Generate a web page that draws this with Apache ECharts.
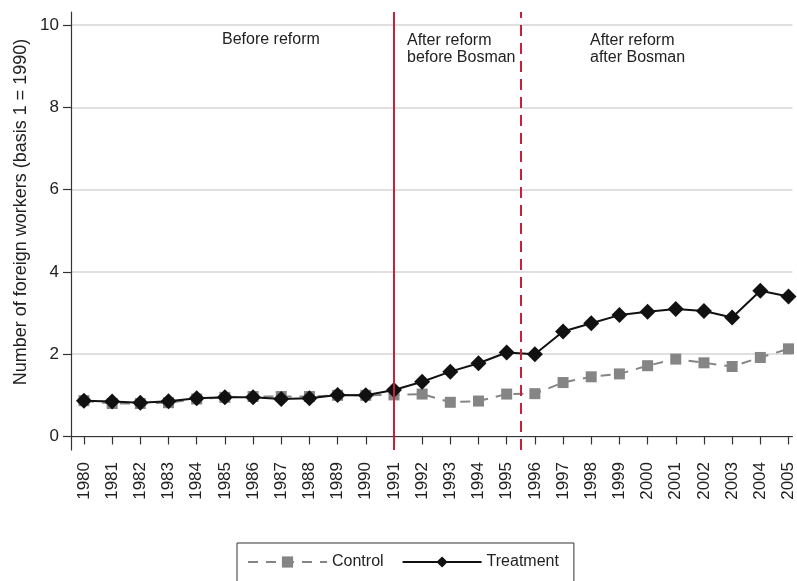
<!DOCTYPE html>
<html>
<head>
<meta charset="utf-8">
<script src="https://cdn.jsdelivr.net/npm/echarts@6/dist/echarts.min.js"></script>
<style>
  html, body { margin: 0; padding: 0; background: #fff; }
  #chart { width: 797px; height: 581px; }
</style>
</head>
<body>
<div id="chart"></div>
<script>
// Years on the horizontal axis
const years = [1980, 1981, 1982, 1983, 1984, 1985, 1986, 1987, 1988, 1989, 1990,
  1991, 1992, 1993, 1994, 1995, 1996, 1997, 1998, 1999, 2000, 2001, 2002, 2003, 2004, 2005];

// Number of foreign workers, indexed to 1 in 1990
const control = [0.87, 0.80, 0.80, 0.82, 0.91, 0.95, 0.97, 0.97, 0.97, 1.00, 1.00,
  1.01, 1.03, 0.83, 0.86, 1.03, 1.04, 1.31, 1.45, 1.52, 1.72, 1.88, 1.79, 1.70, 1.92, 2.13];
const treatment = [0.87, 0.85, 0.82, 0.855, 0.93, 0.95, 0.95, 0.91, 0.93, 1.01, 1.00,
  1.13, 1.33, 1.575, 1.78, 2.04, 2.00, 2.55, 2.75, 2.95, 3.03, 3.10, 3.05, 2.89, 3.54, 3.40];

// Y tick values
const yTicks = [0, 2, 4, 6, 8, 10];

// Reform dates
const reformYear = 1991;
const bosmanYear = 1995.5;

const font = "'Liberation Sans', Arial, Helvetica, sans-serif";
const ink = '#222';
const red = '#c8203a';

const chart = echarts.init(document.getElementById('chart'), null, { renderer: 'canvas' });

const toPairs = arr => years.map((y, i) => [y, arr[i]]);

chart.setOption({
  animation: false,
  backgroundColor: '#fff',
  textStyle: { fontFamily: font, color: ink },
  grid: { left: 71, right: 0, top: 12, bottom: 131, containLabel: false },
  xAxis: {
    type: 'value',
    min: 1979.54,
    max: 2005.14,
    axisLine: { show: true, lineStyle: { color: '#333', width: 1.2 } },
    axisTick: { show: true, length: 8, lineStyle: { color: '#333', width: 1.2 }, customValues: years },
    axisLabel: {
      customValues: years, rotate: 90, margin: 12,
      fontSize: 17, color: ink, fontFamily: font,
      formatter: v => String(v)
    },
    splitLine: { show: false }
  },
  yAxis: {
    type: 'value',
    min: -0.33,
    max: 10.32,
    axisLine: { show: true, lineStyle: { color: '#333', width: 1.2 } },
    axisTick: { show: true, length: 8, lineStyle: { color: '#333', width: 1.2 }, customValues: yTicks },
    axisLabel: {
      customValues: yTicks, margin: 12,
      fontSize: 17, color: ink, fontFamily: font,
      formatter: v => String(v)
    },
    splitLine: { show: true, lineStyle: { color: '#d6d6d6', width: 1.5 } }
  },
  legend: {
    left: 237,
    top: 543,
    orient: 'horizontal',
    padding: [11, 15, 40, 10],
    itemGap: 18,
    itemWidth: 79,
    itemHeight: 14,
    borderColor: '#333',
    borderWidth: 1,
    textStyle: { fontSize: 16, color: ink, fontFamily: font },
    data: ['Control', 'Treatment']
  },
  series: [
    {
      name: 'Control',
      type: 'line',
      data: toPairs(control),
      symbol: 'rect',
      symbolSize: 11,
      itemStyle: { color: '#858585' },
      lineStyle: { color: '#858585', width: 2, type: [10, 8] },
      z: 2
    },
    {
      name: 'Treatment',
      type: 'line',
      data: toPairs(treatment),
      symbol: 'diamond',
      symbolSize: 16,
      itemStyle: { color: '#111' },
      lineStyle: { color: '#111', width: 2 },
      z: 3,
      markLine: {
        silent: true,
        symbol: 'none',
        label: { show: false },
        data: [
          { xAxis: reformYear, lineStyle: { color: red, width: 2, type: 'solid' } },
          { xAxis: bosmanYear, lineStyle: { color: red, width: 2, type: [11, 7] } }
        ]
      }
    }
  ],
  graphic: [
    {
      type: 'text', left: 222, top: 32,
      style: { text: 'Before reform', font: '16px ' + font, fill: ink }
    },
    {
      type: 'text', left: 407, top: 32,
      style: { text: 'After reform\nbefore Bosman', font: '16px ' + font, fill: ink, lineHeight: 17 }
    },
    {
      type: 'text', left: 590, top: 32,
      style: { text: 'After reform\nafter Bosman', font: '16px ' + font, fill: ink, lineHeight: 17 }
    },
    {
      type: 'text', x: 21, y: 212, rotation: Math.PI / 2,
      style: {
        text: 'Number of foreign workers (basis 1 = 1990)',
        font: '18px ' + font, fill: ink, align: 'center', verticalAlign: 'middle'
      }
    }
  ]
});
</script>
</body>
</html>
